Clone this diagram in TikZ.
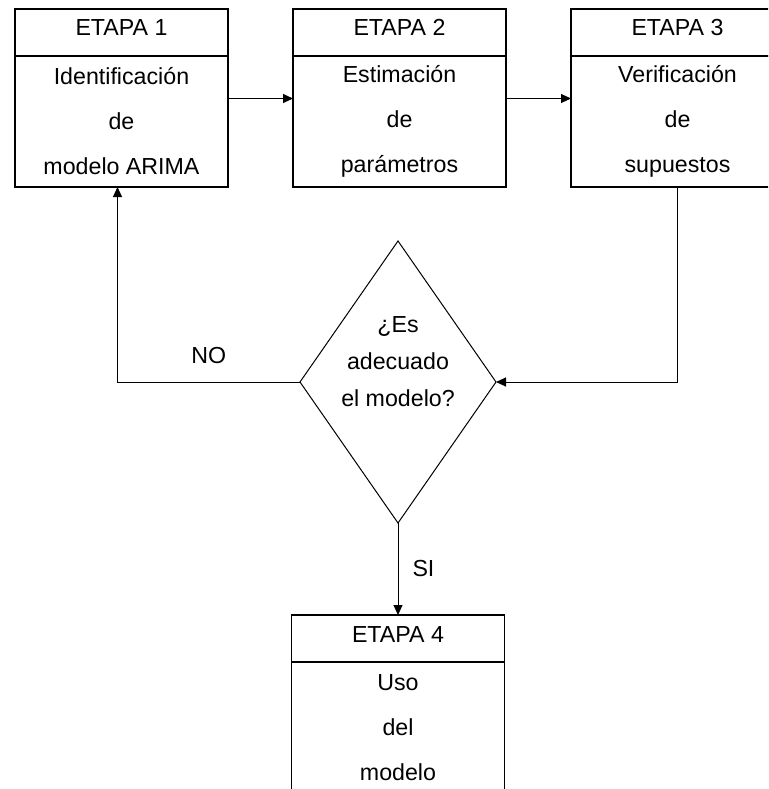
\documentclass[tikz,border=0pt]{standalone}
\usepackage{fontspec}
\setmainfont{Liberation Sans}
\usepackage{tikz}
\usetikzlibrary{arrows.meta, positioning, shapes.geometric}

\begin{document}
\begin{tikzpicture}[x=1pt, y=-1pt,
        head/.style={rectangle, draw, line width=1.2pt, fill=white, minimum width=213pt, minimum height=47pt, inner sep=0pt, outer sep=0pt, text height=16pt, text depth=9pt, font=\fontsize{23.2}{45}\selectfont},
        body/.style={rectangle, draw, line width=1.2pt, fill=white, minimum width=213pt, minimum height=131pt, inner sep=0pt, outer sep=0pt, align=center, font=\fontsize{23.2}{45}\selectfont},
        decision/.style={diamond, draw, line width=1pt, minimum width=196pt, minimum height=282pt, inner sep=0pt, outer sep=0pt},
        qtext/.style={align=center, inner sep=0pt, font=\fontsize{23.2}{37}\selectfont},
        arr/.style={-{Triangle[length=10pt, width=9pt]}, line width=1pt},
        lbl/.style={inner sep=0pt, font=\fontsize{23.2}{27}\selectfont}
    ]
        \useasboundingbox (0,0) rectangle (768,789);
        \clip (0,0) rectangle (768,789);

        % Etapas
        \node[head] (e1h) at (121.5,32.5) {ETAPA 1};
        \node[body, below=0pt of e1h] (e1b) {Identificación\\de\\modelo ARIMA};
        \node[head, right=65pt of e1h] (e2h) {ETAPA 2};
        \node[body, below=0pt of e2h] (e2b) {Estimación\\de\\parámetros};
        \node[head, right=65pt of e2h] (e3h) {ETAPA 3};
        \node[body, below=0pt of e3h] (e3b) {Verificación\\de\\supuestos};

        % Decision
        \node[decision] (d) at (398,382) {};
        \node[qtext] (dq) at ([yshift=20pt]d.center) {¿Es\\adecuado\\el modelo?};

        \node[head, below=92pt of d] (e4h) {ETAPA 4};
        \node[body, below=0pt of e4h] (e4b) {Uso\\del\\modelo};

        % Flechas
        \draw[arr] ([yshift=23pt]e1b.east) -- ([yshift=23pt]e2b.west);
        \draw[arr] ([yshift=23pt]e2b.east) -- ([yshift=23pt]e3b.west);
        \draw[arr] (e3b.south) |- (d.east);
        \draw[arr] (d.west) -| node[lbl, pos=0.25, above=18pt] (no) {NO} ([xshift=-4pt]e1b.south);
        \draw[arr] (d.south) -- node[lbl, midway, right=14pt] (si) {SI} (e4h.north);
\end{tikzpicture}
\end{document}
